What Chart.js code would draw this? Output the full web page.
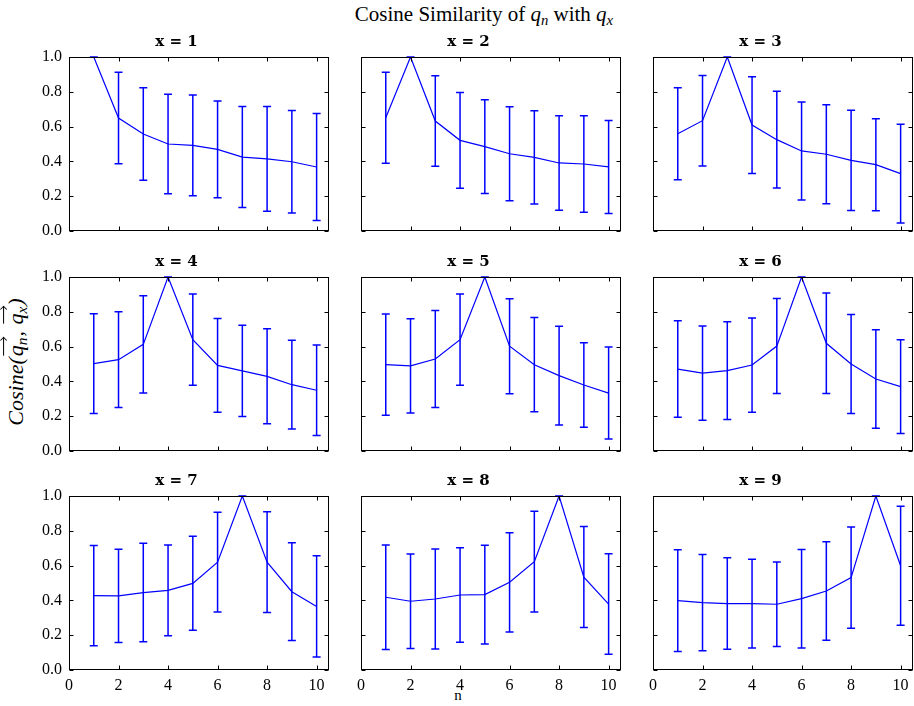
<!DOCTYPE html>
<html>
<head>
<meta charset="utf-8">
<script src="https://cdn.jsdelivr.net/npm/chart.js@4.4.0/dist/chart.umd.min.js"></script>
<style>
    body { margin: 0; background: #fff; overflow: hidden; }
    #page { position: relative; width: 914px; height: 706px; background: #fff; }
    #page canvas { position: absolute; }
    .txt { position: absolute; font-family: 'Liberation Serif', serif; color: #000; white-space: nowrap; }
    .txt sub { font-size: 0.7em; vertical-align: -0.25em; }
    #suptitle { left: 484px; top: 2px; font-size: 21px; transform: translateX(-50%); }
    #xlabel { left: 458px; top: 687px; font-size: 15px; transform: translateX(-50%); }
    #ylabel { left: 17px; top: 362px; font-size: 22px; font-style: italic; transform: translate(-50%, -50%) rotate(-90deg); }
    .vec { position: relative; display: inline-block; margin: 0 1px; }
    .vec::before { content: ''; position: absolute; left: 1px; right: 0; top: 0px; border-top: 1px solid #000; }
    .vec::after { content: ''; position: absolute; right: 0; top: -2px; width: 4px; height: 4px; border-top: 1px solid #000; border-right: 1px solid #000; transform: rotate(45deg); }
</style>
</head>
<body>
<div id="page">
    <div id="suptitle" class="txt">Cosine Similarity of <i>q</i><sub><i>n</i></sub> with <i>q</i><sub><i>x</i></sub></div>
    <div id="ylabel" class="txt">Cosine(<span class="vec">q<sub>n</sub></span>, <span class="vec">q<sub>x</sub></span>)</div>
    <div id="xlabel" class="txt">n</div>
</div>
<script>
// n on the x axis, one panel per x
const N = [1, 2, 3, 4, 5, 6, 7, 8, 9, 10];
const X_VALUES = [1, 2, 3, 4, 5, 6, 7, 8, 9];

// mean cosine similarity and std (error bar half-length) per panel
const mean_x1 = [1.0, 0.649, 0.557, 0.500, 0.492, 0.469, 0.425, 0.414, 0.398, 0.368];
const err_x1  = [0, 0.263, 0.266, 0.286, 0.290, 0.278, 0.290, 0.301, 0.295, 0.308];
const mean_x2 = [0.651, 1.0, 0.632, 0.521, 0.485, 0.444, 0.423, 0.391, 0.385, 0.368];
const err_x2  = [0.262, 0, 0.260, 0.275, 0.270, 0.270, 0.268, 0.272, 0.277, 0.267];
const mean_x3 = [0.559, 0.634, 1.0, 0.609, 0.525, 0.460, 0.441, 0.406, 0.381, 0.330];
const err_x3  = [0.264, 0.260, 0, 0.278, 0.278, 0.282, 0.284, 0.288, 0.264, 0.284];
const mean_x4 = [0.502, 0.525, 0.613, 1.0, 0.640, 0.492, 0.460, 0.429, 0.381, 0.349];
const err_x4  = [0.287, 0.275, 0.279, 0, 0.262, 0.270, 0.262, 0.273, 0.255, 0.260];
const mean_x5 = [0.496, 0.489, 0.529, 0.640, 1.0, 0.602, 0.496, 0.433, 0.379, 0.333];
const err_x5  = [0.291, 0.271, 0.279, 0.262, 0, 0.273, 0.271, 0.284, 0.243, 0.264];
const mean_x6 = [0.471, 0.448, 0.462, 0.494, 0.603, 1.0, 0.619, 0.500, 0.414, 0.370];
const err_x6  = [0.277, 0.271, 0.281, 0.271, 0.273, 0, 0.289, 0.285, 0.283, 0.270];
const mean_x7 = [0.427, 0.426, 0.445, 0.458, 0.498, 0.620, 1.0, 0.620, 0.450, 0.365];
const err_x7  = [0.288, 0.268, 0.283, 0.261, 0.270, 0.287, 0, 0.289, 0.281, 0.291];
const mean_x8 = [0.418, 0.395, 0.408, 0.431, 0.433, 0.504, 0.623, 1.0, 0.534, 0.379];
const err_x8  = [0.300, 0.272, 0.287, 0.272, 0.284, 0.285, 0.290, 0, 0.290, 0.289];
const mean_x9 = [0.399, 0.387, 0.382, 0.382, 0.378, 0.410, 0.454, 0.531, 1.0, 0.599];
const err_x9  = [0.292, 0.277, 0.263, 0.255, 0.243, 0.283, 0.283, 0.291, 0, 0.342];

const MEANS = [mean_x1, mean_x2, mean_x3, mean_x4, mean_x5, mean_x6, mean_x7, mean_x8, mean_x9];
const ERRS = [err_x1, err_x2, err_x3, err_x4, err_x5, err_x6, err_x7, err_x8, err_x9];

// layout of the 3x3 grid (plot area boxes)
const colLeft = [69, 361, 653];
const rowTop = [57, 277, 496];
const plotW = 260, plotH = 174;
const yAxisW = 45, xAxisH = 30, titleH = 24, padRight = 3;

const BLUE = '#0000ff';
const SERIF = "'Liberation Serif', 'Times New Roman', serif";

// error bars + matplotlib-like frame with inward ticks
const framePlugin = {
    id: 'frame',
    beforeDatasetsDraw(chart) {
        const ctx = chart.ctx;
        const xs = chart.scales.x, ys = chart.scales.y;
        const ds = chart.data.datasets[0];
        ctx.save();
        ctx.strokeStyle = BLUE;
        ctx.lineWidth = 1.5;
        ds.data.forEach((p, k) => {
            const e = ds.errors[k];
            const x = xs.getPixelForValue(p.x);
            const y1 = ys.getPixelForValue(p.y - e);
            const y2 = ys.getPixelForValue(p.y + e);
            ctx.beginPath();
            ctx.moveTo(x, y1); ctx.lineTo(x, y2);
            ctx.moveTo(x - 4, y1); ctx.lineTo(x + 4, y1);
            ctx.moveTo(x - 4, y2); ctx.lineTo(x + 4, y2);
            ctx.stroke();
        });
        ctx.restore();
    },
    afterDraw(chart) {
        const ctx = chart.ctx;
        const a = chart.chartArea;
        const xs = chart.scales.x, ys = chart.scales.y;
        ctx.save();
        ctx.strokeStyle = '#000';
        ctx.lineWidth = 1;
        const L = Math.round(a.left) + 0.5, R = Math.round(a.right) - 0.5;
        const T = Math.round(a.top) + 0.5, B = Math.round(a.bottom) - 0.5;
        ctx.strokeRect(L, T, R - L, B - T);
        ctx.beginPath();
        xs.ticks.forEach(t => {
            const x = Math.round(xs.getPixelForValue(t.value)) + 0.5;
            ctx.moveTo(x, B); ctx.lineTo(x, B - 4);
            ctx.moveTo(x, T); ctx.lineTo(x, T + 4);
        });
        ys.ticks.forEach(t => {
            const y = Math.round(ys.getPixelForValue(t.value)) + 0.5;
            ctx.moveTo(L, y); ctx.lineTo(L + 4, y);
            ctx.moveTo(R, y); ctx.lineTo(R - 4, y);
        });
        ctx.stroke();
        ctx.restore();
    }
};

const page = document.getElementById('page');

X_VALUES.forEach((xv, i) => {
    const col = i % 3, row = Math.floor(i / 3);
    const canvas = document.createElement('canvas');
    canvas.width = yAxisW + plotW + padRight;
    canvas.height = titleH + plotH + xAxisH;
    canvas.style.left = (colLeft[col] - yAxisW) + 'px';
    canvas.style.top = (rowTop[row] - titleH) + 'px';
    page.appendChild(canvas);

    const means = MEANS[i];
    new Chart(canvas.getContext('2d'), {
        type: 'line',
        data: {
            datasets: [{
                data: N.map((n, k) => ({x: n, y: means[k]})),
                errors: ERRS[i],
                borderColor: BLUE,
                borderWidth: 1.2,
                pointRadius: 0,
                tension: 0,
                fill: false
            }]
        },
        options: {
            responsive: false,
            animation: false,
            devicePixelRatio: 1,
            layout: { padding: { left: 0, right: padRight, top: 0, bottom: 0 } },
            plugins: {
                legend: { display: false },
                tooltip: { enabled: false },
                title: {
                    display: true,
                    text: 'x = ' + xv,
                    color: '#000',
                    font: { family: "'DejaVu Serif', serif", weight: 'bold', size: 15, lineHeight: 1.2 },
                    padding: { top: 0, bottom: 6 }
                }
            },
            scales: {
                x: {
                    type: 'linear',
                    min: 0,
                    max: 10.5,
                    grid: { display: false, drawTicks: false },
                    border: { display: false },
                    ticks: {
                        stepSize: 2,
                        includeBounds: false,
                        autoSkip: false,
                        maxRotation: 0,
                        padding: 6,
                        color: '#000',
                        font: { family: SERIF, size: 16 },
                        callback: v => row === 2 ? String(v) : ''
                    },
                    afterFit: s => { s.height = xAxisH; }
                },
                y: {
                    min: 0,
                    max: 1,
                    grid: { display: false, drawTicks: false },
                    border: { display: false },
                    ticks: {
                        stepSize: 0.2,
                        includeBounds: false,
                        padding: 7,
                        color: '#000',
                        font: { family: SERIF, size: 16 },
                        callback: v => col === 0 ? v.toFixed(1) : ''
                    },
                    afterFit: s => { s.width = yAxisW; }
                }
            }
        },
        plugins: [framePlugin]
    });
});
</script>
</body>
</html>
